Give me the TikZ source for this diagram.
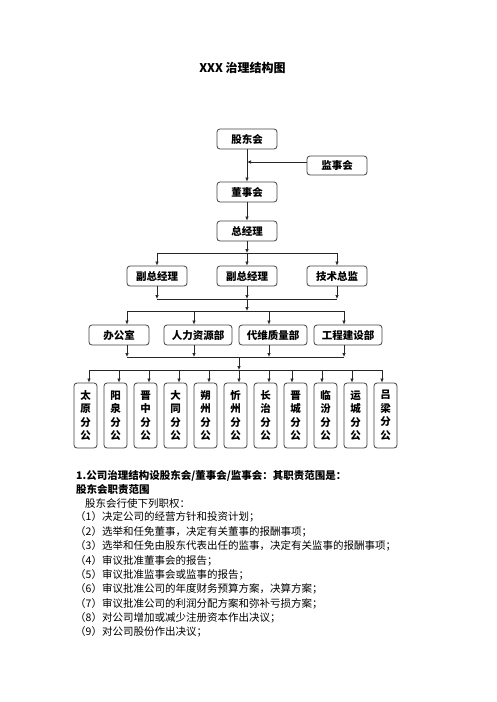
\documentclass[tikz,border=0pt]{standalone}
\usepackage{fontspec}
\setmainfont{Noto Sans CJK SC}
\usetikzlibrary{arrows.meta}
\begin{document}
\begin{tikzpicture}[x=1pt,y=-1pt,
  box/.style={draw=black!75,line width=0.8pt,rounded corners=3pt,minimum height=20pt,inner sep=0pt,font=\fontsize{10.5}{12}\selectfont\bfseries},
  vbox/.style={draw=black!75,line width=0.8pt,rounded corners=3pt,minimum width=23pt,minimum height=65pt,inner sep=0pt,align=center,font=\fontsize{10.5}{13.5}\selectfont\bfseries},
  arr/.style={-{Latex[length=4pt,width=3.5pt]},line width=0.7pt,draw=black!85},
  ln/.style={line width=0.7pt,draw=black!85},
  body/.style={anchor=west,inner sep=0pt,font=\fontsize{10.5}{12}\selectfont},
  bbody/.style={body,font=\fontsize{10.5}{12}\selectfont\bfseries}]
\useasboundingbox (0,0) rectangle (496,702);
\node[font=\fontsize{12}{14}\selectfont\bfseries] (title) at (242.5,68) {XXX 治理结构图};
% top chain
\node[box,minimum width=60pt] (gd) at (247,139) {股东会};
\node[box,minimum width=60pt,minimum height=19pt] (js) at (337,165.5) {监事会};
\node[box,minimum width=60pt] (dsh) at (247,192) {董事会};
\node[box,minimum width=60pt] (zjl) at (247,231) {总经理};
\draw[arr] (gd) -- (dsh);
\coordinate (jsin) at (247,162);
\draw[arr] (js.west |- jsin) -- (jsin);
\draw[arr] (dsh) -- (zjl);
% deputies
\node[box,minimum width=60pt] (fz1) at (157,276) {副总经理};
\node[box,minimum width=60pt] (fz2) at (247,276) {副总经理};
\node[box,minimum width=60pt] (jszj) at (337,276) {技术总监};
\coordinate (h1) at (247,253);
\draw[arr] (zjl) -- (h1);
\draw[ln] (fz1 |- h1) -- (jszj |- h1);
\draw[arr] (fz1 |- h1) -- (fz1);
\draw[arr] (h1) -- (fz2);
\draw[arr] (jszj |- h1) -- (jszj);
\coordinate (h2) at (247,299);
\draw[arr] (fz1) -- (fz1 |- h2);
\draw[arr] (fz2) -- (h2);
\draw[arr] (jszj) -- (jszj |- h2);
\draw[ln] (fz1 |- h2) -- (jszj |- h2);
% departments
\node[box,minimum width=60pt] (bgs) at (119,335) {办公室};
\node[box,minimum width=68pt] (rlzy) at (198,335) {人力资源部};
\node[box,minimum width=68pt] (dwzl) at (273,335) {代维质量部};
\node[box,minimum width=68pt] (gcjs) at (348,335) {工程建设部};
\coordinate (h3) at (247,311);
\draw[arr] (h2) -- (h3);
\coordinate (b1) at ([xshift=8pt]bgs.north);
\coordinate (b2) at ([xshift=-4pt]rlzy.north);
\coordinate (b3) at ([xshift=-4pt]dwzl.north);
\coordinate (b4) at ([xshift=-4pt]gcjs.north);
\draw[ln] (b1 |- h3) -- (b4 |- h3);
\foreach \b in {b1,b2,b3,b4} \draw[arr] (\b |- h3) -- (\b);
\coordinate (h4) at (239,357);
\foreach \b/\n in {b1/bgs,b2/rlzy,b3/dwzl,b4/gcjs} \draw[arr] (\b |- \n.south) -- (\b |- h4);
\draw[ln] (b1 |- h4) -- (b4 |- h4);
\coordinate (h5) at (239,370);
\draw[arr] (h4) -- (h5);
% branches
\foreach \i/\t/\d in {0/太\\原\\分\\公/3.5,1/阳\\泉\\分\\公/3.5,2/晋\\中\\分\\公/3.5,3/大\\同\\分\\公/3.5,4/朔\\州\\分\\公/3.5,5/忻\\州\\分\\公/3.5,6/长\\治\\分\\公/3.5,7/晋\\城\\分\\公/-3.5,8/临\\汾\\分\\公/-3.5,9/运\\城\\分\\公/-3.5,10/吕\\梁\\分\\公/-3.5}{
  \node[vbox] (br\i) at ({85.5+30*\i},415.5) {\t};
  \coordinate (bt\i) at ([xshift=\d pt]br\i.north);
}
\draw[ln] (bt0 |- h5) -- (bt10 |- h5);
\foreach \i in {0,...,10} \draw[arr] (bt\i |- h5) -- (bt\i);
% text
\node[bbody] (t1) at (76,476) {1.公司治理结构设股东会/董事会/监事会：其职责范围是：};
\node[bbody] (t2) at (76,489.5) {股东会职责范围};
\node[body] (t3) at (85,503) {股东会行使下列职权：};
\node[body] (p1) at (75,517.3) {（1）决定公司的经营方针和投资计划；};
\node[body] (p2) at (75,531.9) {（2）选举和任免董事，决定有关董事的报酬事项；};
\node[body] (p3) at (75,546.2) {（3）选举和任免由股东代表出任的监事，决定有关监事的报酬事项；};
\node[body] (p4) at (75,560.5) {（4）审议批准董事会的报告；};
\node[body] (p5) at (75,574.8) {（5）审议批准监事会或监事的报告；};
\node[body] (p6) at (75,589.1) {（6）审议批准公司的年度财务预算方案，决算方案；};
\node[body] (p7) at (75,603.4) {（7）审议批准公司的利润分配方案和弥补亏损方案；};
\node[body] (p8) at (75,617.7) {（8）对公司增加或减少注册资本作出决议；};
\node[body] (p9) at (75,632) {（9）对公司股份作出决议；};
\end{tikzpicture}
\end{document}
